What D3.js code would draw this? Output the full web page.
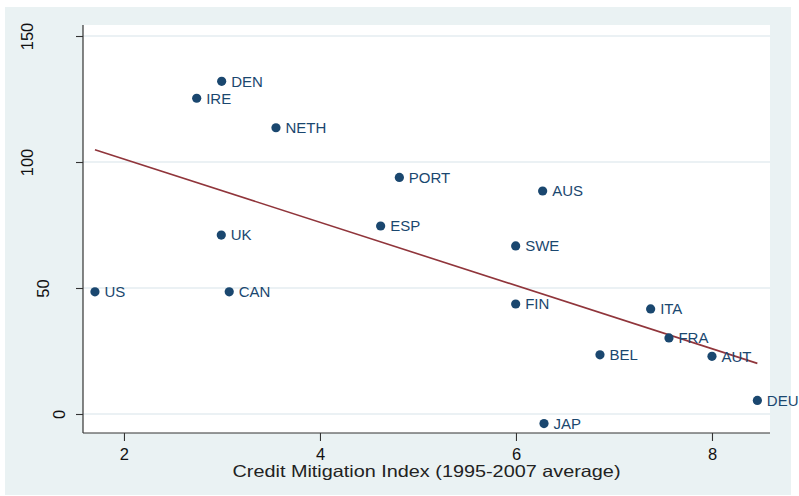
<!DOCTYPE html>
<html>
<head>
<meta charset="utf-8">
<script src="https://cdn.jsdelivr.net/npm/d3@7"></script>
<style>
  html, body { margin: 0; padding: 0; background: #ffffff; }
  svg { display: block; font-family: "Liberation Sans", Arial, Helvetica, sans-serif; }
</style>
</head>
<body>
<svg id="chart" width="799" height="496"></svg>
<script>
// Country codes with their credit mitigation index and outcome value
const countries = ["US", "UK", "CAN", "DEN", "IRE", "NETH", "PORT", "AUS", "ESP",
                   "SWE", "FIN", "ITA", "FRA", "BEL", "AUT", "DEU", "JAP"];
const mitigationIndex = [1.704, 2.993, 3.074, 2.997, 2.742, 3.551, 4.81, 6.272, 4.619,
                         5.997, 5.997, 7.374, 7.561, 6.857, 8.0, 8.463, 6.286];
const outcomeValues = [48.5, 71.0, 48.5, 132.0, 125.3, 113.6, 93.9, 88.5, 74.6,
                       66.7, 43.65, 41.7, 30.2, 23.5, 22.9, 5.4, -3.8];
const xTicks = [2, 4, 6, 8];
const yTicks = [0, 50, 100, 150];
const xTitle = "Credit Mitigation Index (1995-2007 average)";

const svg = d3.select("#chart");

// Graph region background
svg.append("rect").attr("x", 5).attr("y", 7).attr("width", 786).attr("height", 488)
  .attr("fill", "#eaf2f3");

// Plot region
const plot = { left: 83, right: 770, top: 25, bottom: 433 };
svg.append("rect")
  .attr("x", plot.left).attr("y", plot.top)
  .attr("width", plot.right - plot.left).attr("height", plot.bottom - plot.top)
  .attr("fill", "#ffffff");

const x = d3.scaleLinear().domain([1.582, 8.592]).range([plot.left, plot.right]);
const y = d3.scaleLinear().domain([-7.54, 154.37]).range([plot.bottom, plot.top]);

// Horizontal grid lines
svg.append("g").selectAll("line").data(yTicks).join("line")
  .attr("x1", plot.left).attr("x2", plot.right)
  .attr("y1", d => y(d)).attr("y2", d => y(d))
  .attr("stroke", "#e4edf0").attr("stroke-width", 1.6);

// Y axis
const yAxis = svg.append("g").attr("transform", `translate(${plot.left},0)`)
  .call(d3.axisLeft(y).tickValues(yTicks).tickSize(7).tickSizeOuter(0).tickFormat(d3.format("d")));
yAxis.select(".domain").attr("d", `M0,${plot.top}V${plot.bottom}`)
  .attr("stroke", "#333").attr("stroke-width", 1.2);
yAxis.selectAll("line").attr("stroke", "#333").attr("stroke-width", 1.1);
yAxis.selectAll("text")
  .attr("font-size", 16.5).attr("fill", "#111")
  .attr("font-family", "'Liberation Sans', Arial, sans-serif")
  .attr("text-anchor", "middle")
  .attr("dy", null)
  .attr("dominant-baseline", "central")
  .attr("x", null)
  .attr("transform", d => `translate(${-8 - 16 * String(d).length},0) rotate(-90)`);

// X axis
const xAxis = svg.append("g").attr("transform", `translate(0,${plot.bottom})`)
  .call(d3.axisBottom(x).tickValues(xTicks).tickSize(8).tickPadding(7).tickSizeOuter(0).tickFormat(d3.format("d")));
xAxis.select(".domain").attr("d", `M${plot.left},0H${plot.right}`)
  .attr("stroke", "#333").attr("stroke-width", 1.2);
xAxis.selectAll("line").attr("stroke", "#333").attr("stroke-width", 1.1);
xAxis.selectAll("text")
  .attr("font-size", 16.5).attr("fill", "#111")
  .attr("font-family", "'Liberation Sans', Arial, sans-serif");

// Axis title
svg.append("text")
  .attr("x", (plot.left + plot.right) / 2).attr("y", 477)
  .attr("text-anchor", "middle").attr("font-size", 16.5).attr("fill", "#222")
  .attr("textLength", 388).attr("lengthAdjust", "spacingAndGlyphs")
  .text(xTitle);

// Linear fit of the outcome on the index
const pts = countries.map((c, i) => ({ name: c, x: mitigationIndex[i], y: outcomeValues[i] }));
const mx = d3.mean(pts, d => d.x), my = d3.mean(pts, d => d.y);
const slope = d3.sum(pts, d => (d.x - mx) * (d.y - my)) / d3.sum(pts, d => (d.x - mx) ** 2);
const intercept = my - slope * mx;
const [xmin, xmax] = d3.extent(pts, d => d.x);
svg.append("path")
  .datum([xmin, xmax])
  .attr("d", d3.line().x(d => x(d)).y(d => y(intercept + slope * d)))
  .attr("fill", "none").attr("stroke", "#90353b").attr("stroke-width", 1.6);

// Scatter points with labels to the right
const g = svg.append("g");
g.selectAll("circle").data(pts).join("circle")
  .attr("cx", d => x(d.x)).attr("cy", d => y(d.y)).attr("r", 4.6)
  .attr("fill", "#1a476f");
g.selectAll("text").data(pts).join("text")
  .attr("x", d => x(d.x) + 9.5).attr("y", d => y(d.y))
  .attr("dy", "0.36em")
  .attr("font-size", 15).attr("fill", "#1a476f")
  .text(d => d.name);
</script>
</body>
</html>
